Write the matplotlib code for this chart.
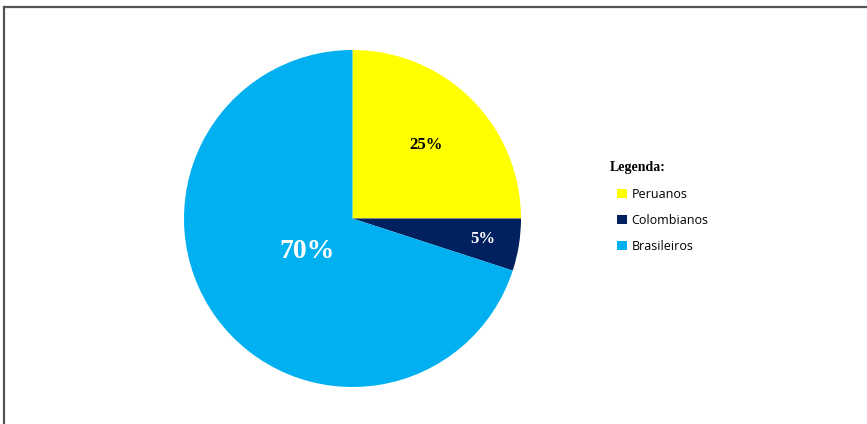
import numpy as np
import matplotlib
matplotlib.use("Agg")
import matplotlib.pyplot as plt
from matplotlib.lines import Line2D
from matplotlib.patches import Patch

categories = ["Peruanos", "Colombianos", "Brasileiros"]
shares = [25, 5, 70]
colors = ["#FFFF00", "#002060", "#00B0F0"]
label_colors = ["black", "white", "white"]
label_sizes = [12, 12, 20]
label_radius = [0.62, 0.78, 0.33]

W, H = 867, 424
fig = plt.figure(figsize=(W / 100, H / 100), dpi=100)
fig.patch.set_facecolor("white")

# pie area: radius 168 px centred at (352, 218)
cx, cy, r = 352.5, 218.5, 168.5
ax = fig.add_axes([(cx - r) / W, (H - cy - r) / H, 2 * r / W, 2 * r / H])
wedges, _ = ax.pie(shares, colors=colors, startangle=90, counterclock=False,
                   radius=1.0, wedgeprops=dict(linewidth=0))
ax.set_xlim(-1, 1)
ax.set_ylim(-1, 1)
ax.set_aspect("equal")
ax.axis("off")

for w, val, c, s, rr in zip(wedges, shares, label_colors, label_sizes, label_radius):
    ang = np.deg2rad((w.theta1 + w.theta2) / 2)
    ax.text(rr * np.cos(ang), rr * np.sin(ang), f"{val}%", ha="center", va="center",
            color=c, fontsize=s, fontweight="bold", family="Liberation Serif")

# legend
fig.text(610 / W, 1 - 168 / H, "Legenda:", ha="left", va="center",
         family="Liberation Serif", fontweight="bold", fontsize=10)
handles = [Patch(facecolor=c, edgecolor="none") for c in colors]
leg = fig.legend(handles, categories, loc="upper left",
                 bbox_to_anchor=(606 / W, 1 - 176.5 / H), frameon=False,
                 prop={"family": "Open Sans", "size": 9},
                 handlelength=0.75, handleheight=0.75, handletextpad=0.4,
                 labelspacing=1.03, alignment="left")

# frame lines along top and left edges
fig.add_artist(Line2D([4 / W, 1], [1 - 7 / H, 1 - 7 / H], transform=fig.transFigure,
                      color="#555555", linewidth=1.6))
fig.add_artist(Line2D([4 / W, 4 / W], [0, 1 - 7 / H], transform=fig.transFigure,
                      color="#555555", linewidth=1.6))

fig.savefig("out.png", dpi=100, facecolor="white")
